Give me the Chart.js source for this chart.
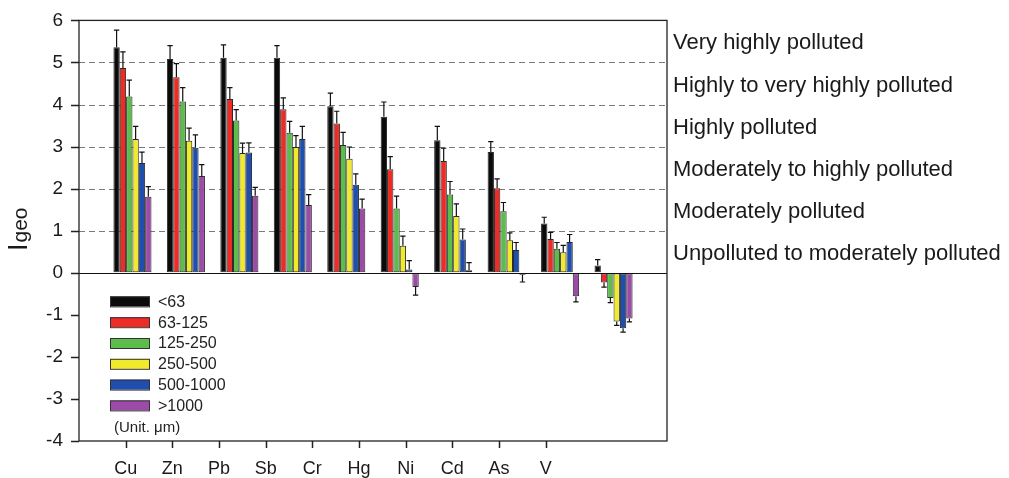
<!DOCTYPE html>
<html>
<head>
<meta charset="utf-8">
<script src="https://cdn.jsdelivr.net/npm/chart.js@4.4.1/dist/chart.umd.min.js"></script>
<style>
html,body{margin:0;padding:0;background:#fff;}
#wrap{width:1009px;height:478px;position:relative;}
</style>
</head>
<body>
<div id="wrap"><canvas id="c" width="1009" height="478"></canvas></div>
<script>
const CATEGORIES = ['Cu','Zn','Pb','Sb','Cr','Hg','Ni','Cd','As','V'];
const SIZE_LABELS = ['<63','63-125','125-250','250-500','500-1000','>1000'];
const COLORS = ['#0b0b0b','#ee2b24','#5cbd4b','#f1ea2b','#1f4fae','#9c4ca8'];
const S_LT63     = [5.36,5.08,5.11,5.11,3.96,3.71,3.15,2.87,1.17,0.17];
const S_63_125   = [4.87,4.65,4.13,3.89,3.55,2.46,2.66,2.01,0.80,-0.23];
const S_125_250  = [4.19,4.07,3.62,3.33,3.04,1.53,1.86,1.46,0.57,-0.60];
const S_250_500  = [3.18,3.14,2.85,2.99,2.71,0.64,1.35,0.77,0.49,-1.16];
const S_500_1000 = [2.61,2.97,2.86,3.18,2.09,0.08,0.79,0.54,0.73,-1.32];
const S_GT1000   = [1.81,2.30,1.83,1.61,1.53,-0.34,0.06,-0.05,-0.56,-1.09];
const E_LT63     = [0.41,0.32,0.31,0.29,0.31,0.35,0.33,0.25,0.15,0.14];
const E_63_125   = [0.38,0.32,0.27,0.27,0.29,0.30,0.30,0.22,0.16,0.11];
const E_125_250  = [0.39,0.33,0.26,0.27,0.30,0.29,0.31,0.21,0.15,0.11];
const E_250_500  = [0.30,0.30,0.23,0.27,0.28,0.23,0.29,0.18,0.16,0.09];
const E_500_1000 = [0.26,0.31,0.23,0.30,0.26,0.21,0.25,0.18,0.18,0.09];
const E_GT1000   = [0.24,0.27,0.20,0.25,0.22,0.19,0.18,0.17,0.13,0.08];
const Y_TICKS = [-4,-3,-2,-1,0,1,2,3,4,5,6];
const DASHED_LEVELS = [1,2,3,4,5];
const LEVEL_LABELS = [
  'Unpolluted to moderately polluted',
  'Moderately polluted',
  'Moderately to highly polluted',
  'Highly polluted',
  'Highly to very highly polluted',
  'Very highly polluted'
];
const UNIT_NOTE = '(Unit. \u03bcm)';

const SERIES = [S_LT63,S_63_125,S_125_250,S_250_500,S_500_1000,S_GT1000];
const ERRORS = [E_LT63,E_63_125,E_125_250,E_250_500,E_500_1000,E_GT1000];
const FONT = '"Liberation Sans", Arial, Helvetica, sans-serif';

const datasets = SERIES.map((s,k)=>({
  label: SIZE_LABELS[k],
  data: s.map((v,i)=>({x:i+1, y:v})),
  backgroundColor: COLORS[k],
  borderColor: '#2a2a2a',
  borderWidth: 1,
  borderSkipped: false,
  xAxisID: 'x',
  yAxisID: 'y',
  categoryPercentage: 0.712,
  barPercentage: 1.0,
  errors: ERRORS[k]
}));

const decor = {
  id: 'decor',
  beforeDatasetsDraw(chart){
    const {ctx, chartArea:a, scales:{y}} = chart;
    ctx.save();
    ctx.strokeStyle = '#7a7a7a';
    ctx.lineWidth = 1;
    ctx.setLineDash([6,4]);
    DASHED_LEVELS.forEach(l=>{
      const py = Math.round(y.getPixelForValue(l))+0.5;
      ctx.beginPath(); ctx.moveTo(a.left, py); ctx.lineTo(a.right, py); ctx.stroke();
    });
    ctx.restore();
  },
  afterDraw(chart){
    const {ctx, chartArea:a, scales:{y, xl}} = chart;
    ctx.save();
    ctx.setLineDash([]);
    // error bars
    ctx.strokeStyle = '#111';
    ctx.lineWidth = 1.2;
    chart.data.datasets.forEach((ds,k)=>{
      const meta = chart.getDatasetMeta(k);
      meta.data.forEach((el,i)=>{
        const v = ds.data[i].y, e = ds.errors[i];
        const sgn = v >= 0 ? 1 : -1;
        const p0 = y.getPixelForValue(v);
        const p1 = y.getPixelForValue(v + sgn*e);
        const cw = el.width*0.42;
        ctx.beginPath();
        ctx.moveTo(el.x, p0); ctx.lineTo(el.x, p1);
        ctx.moveTo(el.x-cw, p1); ctx.lineTo(el.x+cw, p1);
        ctx.stroke();
      });
    });
    // zero line
    const z = Math.round(y.getPixelForValue(0))+0.5;
    ctx.strokeStyle = '#111'; ctx.lineWidth = 1;
    ctx.beginPath(); ctx.moveTo(a.left, z); ctx.lineTo(a.right, z); ctx.stroke();
    // tick marks at the scales' tick positions
    ctx.strokeStyle = '#222'; ctx.lineWidth = 1.5;
    ctx.beginPath();
    y.ticks.forEach(t=>{
      const py = Math.round(y.getPixelForValue(t.value))+0.5;
      ctx.moveTo(a.left-8, py); ctx.lineTo(a.left, py);
    });
    xl.ticks.forEach(t=>{
      const px = Math.round(xl.getPixelForValue(t.value))+0.5;
      ctx.moveTo(px, a.bottom); ctx.lineTo(px, a.bottom+7);
    });
    ctx.stroke();
    // frame
    ctx.strokeStyle = '#222'; ctx.lineWidth = 1.3;
    ctx.strokeRect(a.left, a.top, a.right-a.left, a.bottom-a.top);
    // legend
    ctx.font = '16px ' + FONT;
    ctx.textBaseline = 'middle';
    ctx.textAlign = 'left';
    const lx = a.left + 31, ly0 = a.top + 281, dy = 20.8;
    chart.data.datasets.forEach((ds,k)=>{
      const yy = ly0 + k*dy;
      ctx.fillStyle = ds.backgroundColor;
      ctx.fillRect(lx, yy-5, 40, 10);
      ctx.strokeStyle = '#333'; ctx.lineWidth = 1;
      ctx.strokeRect(lx+0.5, yy-5+0.5, 39, 10);
      ctx.fillStyle = '#222';
      ctx.fillText(ds.label, lx+48, yy+1);
    });
    ctx.font = '15px ' + FONT;
    ctx.fillText(UNIT_NOTE, lx+4, ly0 + 6*dy + 2);
    // right-side level labels
    ctx.font = '22px ' + FONT;
    ctx.fillStyle = '#1a1a1a';
    LEVEL_LABELS.forEach((t,i)=>{
      ctx.fillText(t, a.right + 6, y.getPixelForValue(i+0.5) + 2);
    });
    // y title Igeo
    ctx.translate(27, 251);
    ctx.rotate(-Math.PI/2);
    ctx.textBaseline = 'alphabetic';
    ctx.font = '27px ' + FONT;
    ctx.fillText('I', 0, 0);
    const w = ctx.measureText('I').width;
    ctx.font = '21px ' + FONT;
    ctx.fillText('geo', w + 1, 0);
    ctx.restore();
  }
};

const HIDDEN = 'rgba(0,0,0,0)';

new Chart(document.getElementById('c'), {
  type: 'bar',
  data: { datasets },
  options: {
    responsive: false,
    animation: false,
    layout: { padding: { top: 17, right: 342, left: 0, bottom: 0 } },
    plugins: { legend: { display: false }, tooltip: { enabled: false } },
    scales: {
      x: {
        type: 'linear', display: false, min: 0, max: 11, offset: false,
        grid: { offset: false }
      },
      xl: {
        type: 'linear', position: 'bottom', min: 0, max: 12.6, offset: false,
        afterBuildTicks(s){ s.ticks = CATEGORIES.map((c,i)=>({value:i+1})); },
        afterFit(s){ s.height = 37; },
        grid: { offset: false, drawOnChartArea: false, drawTicks: true, tickLength: 7, color: HIDDEN },
        border: { display: false },
        ticks: {
          autoSkip: false, maxRotation: 0, padding: 10,
          color: '#1a1a1a', font: { family: FONT, size: 18 },
          callback: (v)=> CATEGORIES[v-1] ?? ''
        }
      },
      y: {
        type: 'linear', min: -4, max: 6,
        afterBuildTicks(s){ s.ticks = Y_TICKS.map(v=>({value:v})); },
        afterFit(s){ s.width = 79; },
        grid: { drawOnChartArea: false, drawTicks: true, tickLength: 7, color: HIDDEN },
        border: { display: false },
        ticks: { padding: 9, color: '#1a1a1a', font: { family: FONT, size: 19 } }
      }
    }
  },
  plugins: [decor]
});
</script>
</body>
</html>
